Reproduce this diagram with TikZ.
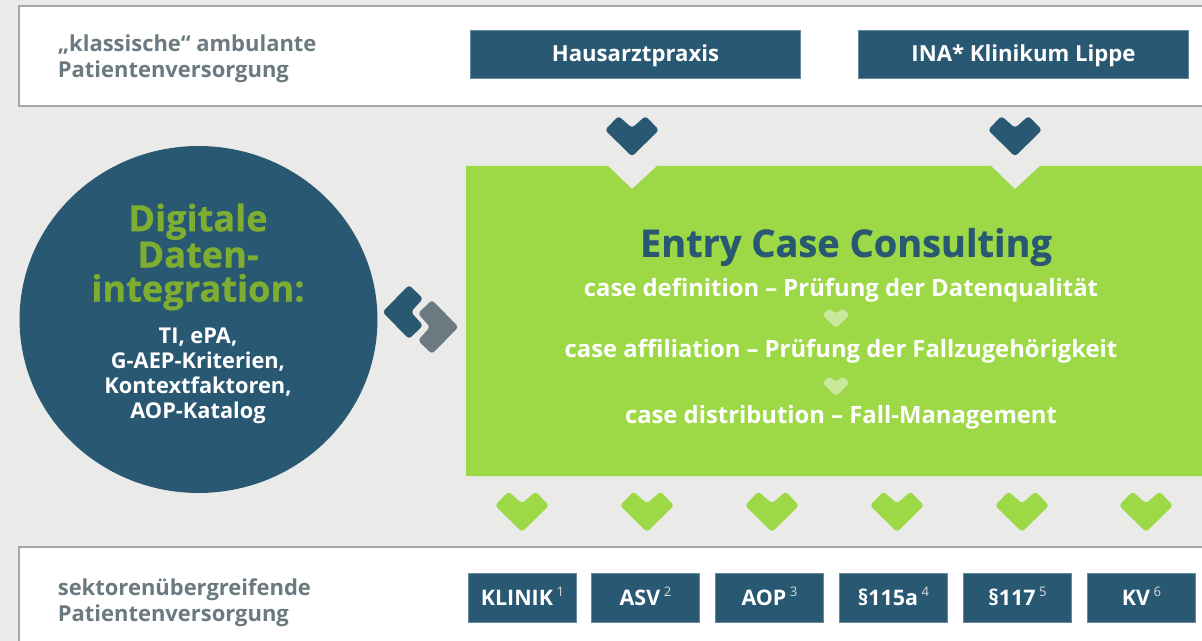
\documentclass[tikz,border=0pt]{standalone}
\usepackage{fontspec}
\setmainfont{Open Sans}
\newfontfamily\dickfont[FakeBold=0.7]{Open Sans}
\usepackage{xcolor}
\usetikzlibrary{positioning, shapes.geometric}
\definecolor{petrol}{HTML}{295872}
\definecolor{hellgruen}{HTML}{9DD847}
\definecolor{blassgruen}{HTML}{C9E89C}
\definecolor{dunkelgruen}{HTML}{7DAE32}
\definecolor{grau}{HTML}{6B7A80}
\definecolor{rand}{HTML}{A3A6A6}
\definecolor{hintergrund}{HTML}{EAEAE8}
\newcommand{\hochzahl}[1]{\,\raisebox{0.4em}{\fontsize{7.5}{9}\selectfont\mdseries\color{black!15}#1}}
\tikzset{
	chevron/.pic={\fill[rounded corners=1.8pt] (-27,-6) -- (-13.5,-20) -- (0,-8) -- (13.5,-20) -- (27,-6) -- (0,20.5) -- cycle;},
	rahmen/.style={draw=rand, fill=white, line width=1.1pt},
	kasten/.style={fill=petrol, draw=petrol!70!white, line width=0.3pt, text=white, font=\fontsize{12.6}{15}\selectfont\bfseries, inner sep=0pt, text height=8.6pt, text depth=0pt},
	gross/.style={kasten, minimum width=6.6cm, minimum height=0.96cm},
	klein/.style={kasten, font=\fontsize{12.2}{15}\selectfont\bfseries, minimum width=2.16cm, minimum height=0.98cm},
	seite/.style={anchor=west, align=left, text=grau, font=\fontsize{12.5}{14.7}\selectfont\bfseries, inner sep=0pt},
	zeile/.style={text=white, font=\fontsize{13.56}{16}\selectfont\bfseries, inner sep=0pt},
}
\begin{document}
\begin{tikzpicture}[x=0.02cm, y=-0.02cm]
		\clip (0,0) rectangle (1202,641);
		\fill[hintergrund] (0,0) rectangle (1202,641);

		% oben
		\draw[rahmen] (19,6) rectangle (1220,106);
		\node[seite] (klassisch) at (57.5,58.5) {„klassische“ ambulante\\Patientenversorgung};
		\node[gross] (hausarzt) at (635.5,54) {Hausarztpraxis};
		\node[gross] (ina) at (1023.5,54) {INA* Klinikum Lippe};
		\pic[petrol] at (632,136) {chevron};
		\pic[petrol] at (1015,136) {chevron};

		% Kreis
		\node[ellipse, fill=petrol, minimum width=7.16cm, minimum height=6.94cm, inner sep=0pt] (kreis) at (198.5,319.5) {};
		\node[align=center, text=dunkelgruen, font=\fontsize{20.6}{19.4}\dickfont\bfseries, inner sep=0pt] (digital) at (198,257) {Digitale\\Daten-\\integration:};
		\node[align=center, text=white, font=\fontsize{12.4}{14.2}\selectfont\bfseries, inner sep=0pt] (kriterien) at (198,376) {TI, ePA,\\G-AEP-Kriterien,\\Kontextfaktoren,\\AOP-Katalog};
		\pic[petrol, rotate=-90] at (403,312) {chevron};
		\pic[grau, rotate=90] at (438,327) {chevron};

		% Entry Case
		\fill[hellgruen] (466,166) -- (608,166) -- (632,189) -- (657,166) -- (991,166) -- (1015,189) -- (1040,166) -- (1220,166) -- (1220,476) -- (466,476) -- cycle;
		\node[text=petrol, font=\fontsize{21.6}{24}\dickfont\bfseries, inner sep=0pt] (entry) at (846,247) {Entry Case Consulting};
		\node[zeile] (definition) at (841,290) {case definition – Prüfung der Datenqualität};
		\node[zeile] (affiliation) at (841,351) {case affiliation – Prüfung der Fallzugehörigkeit};
		\node[zeile] (distribution) at (841,417) {case distribution – Fall-Management};
		\pic[blassgruen, scale=0.5] at (836,318) {chevron};
		\pic[blassgruen, scale=0.5] at (836,386) {chevron};

		% unten
		\pic[hellgruen] at (522,511.5) {chevron};
		\pic[hellgruen] at (647,511.5) {chevron};
		\pic[hellgruen] at (772,511.5) {chevron};
		\pic[hellgruen] at (897,511.5) {chevron};
		\pic[hellgruen] at (1022,511.5) {chevron};
		\pic[hellgruen] at (1146,511.5) {chevron};
		\draw[rahmen] (19,547) rectangle (1220,660);
		\node[seite] (sektor) at (57.5,602.5) {sektorenübergreifende\\Patientenversorgung};
		\node[klein] (klinik) at (522.5,597.5) {KLINIK\hochzahl{1}};
		\node[klein] (asv) at (645.5,597.5) {ASV\hochzahl{2}};
		\node[klein] (aop) at (769.5,597.5) {AOP\hochzahl{3}};
		\node[klein] (p115) at (893.5,597.5) {§115a\hochzahl{4}};
		\node[klein] (p117) at (1017.5,597.5) {§117\hochzahl{5}};
		\node[klein] (kv) at (1141.5,597.5) {KV\hochzahl{6}};
	\end{tikzpicture}
\end{document}
